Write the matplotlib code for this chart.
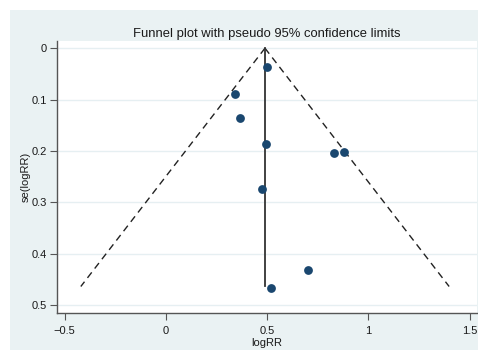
import numpy as np
import matplotlib
matplotlib.use("Agg")
import matplotlib.pyplot as plt
from matplotlib.patches import Rectangle

plt.rcParams['font.family'] = ['Liberation Sans', 'DejaVu Sans']

# study estimates
log_rr = [0.499, 0.341, 0.365, 0.494, 0.830, 0.879, 0.474, 0.701, 0.519]
se_log_rr = [0.037, 0.090, 0.136, 0.187, 0.205, 0.203, 0.275, 0.431, 0.466]

pooled = 0.489
se_max = 0.464
x_ticks = [-0.5, 0, 0.5, 1, 1.5]
x_tick_labels = ["\u22120.5", "0", "0.5", "1", "1.5"]
y_ticks = [0, 0.1, 0.2, 0.3, 0.4, 0.5]
y_tick_labels = ["0", "0.1", "0.2", "0.3", "0.4", "0.5"]

W, H = 478, 354
fig = plt.figure(figsize=(W / 100, H / 100), dpi=100, facecolor="white")

# stata-like graph region, behind the axes
fig.patches.append(Rectangle((10 / W, 4 / H), 1 - 10 / W, 340 / H,
                             transform=fig.transFigure, facecolor="#eaf2f3",
                             edgecolor="none", zorder=-1))

ax = fig.add_axes([57 / W, (H - 313) / H, (477 - 57) / W, (313 - 41) / H])
ax.set_facecolor("white")

# funnel lines
se_line = np.array([0, se_max])
ax.plot(pooled - 1.96 * se_line, se_line, color="#222222", lw=1.0, ls=(0, (5, 3.5)))
ax.plot(pooled + 1.96 * se_line, se_line, color="#222222", lw=1.0, ls=(0, (5, 3.5)))
ax.plot([pooled, pooled], [0, se_max], color="#333333", lw=1.3)

ax.scatter(log_rr, se_log_rr, s=40, color="#1a476f", zorder=3, linewidths=0)

ax.set_xlim(-0.538, 1.536)
ax.set_ylim(0.5156, -0.014)
ax.set_xticks(x_ticks)
ax.set_xticklabels(x_tick_labels)
ax.set_yticks(y_ticks)
ax.set_yticklabels(y_tick_labels)

for y in y_ticks:
    ax.axhline(y, color="#e6eff2", lw=1.0, zorder=0)

for s in ["top", "right"]:
    ax.spines[s].set_visible(False)
for s in ["left", "bottom"]:
    ax.spines[s].set_color("#555555")
    ax.spines[s].set_linewidth(1.0)

ax.tick_params(axis="both", direction="out", length=5, width=0.8, color="#555555",
               labelsize=8, labelcolor="#1a1a1a")
ax.tick_params(axis="x", pad=4)
ax.tick_params(axis="y", pad=2.5)

ax.set_xlabel("logRR", fontsize=8, color="#1a1a1a", labelpad=1.5)
ax.set_ylabel("se(logRR)", fontsize=8, color="#1a1a1a", labelpad=0)
ax.set_title("Funnel plot with pseudo 95% confidence limits", fontsize=9.4,
             color="#1a1a1a", pad=3)

fig.savefig("out.png", dpi=100, facecolor=fig.get_facecolor())
